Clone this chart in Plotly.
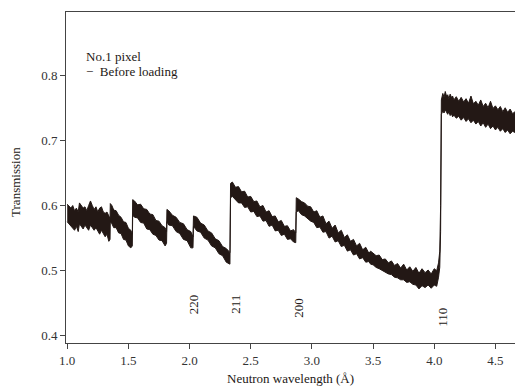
import plotly.graph_objects as go

# Wavelength (Å), lower and upper envelope of the noisy transmission band
wavelength = [
    1.000, 1.015, 1.030, 1.045, 1.060, 1.075, 1.090, 1.100, 1.115, 1.130, 1.145, 1.160, 1.175, 1.190,
    1.205, 1.220, 1.235, 1.250, 1.265, 1.280, 1.295, 1.310, 1.325, 1.340, 1.350,
    1.352, 1.365, 1.380, 1.400, 1.420, 1.440, 1.460, 1.480, 1.500, 1.520, 1.532,
    1.535, 1.550, 1.575, 1.600, 1.625, 1.650, 1.675, 1.700, 1.725, 1.750, 1.775, 1.800, 1.812,
    1.815, 1.830, 1.860, 1.890, 1.920, 1.950, 1.980, 2.010, 2.028,
    2.032, 2.060, 2.090, 2.120, 2.150, 2.180, 2.210, 2.240, 2.270, 2.300, 2.330,
    2.335, 2.350, 2.375, 2.400, 2.425, 2.450, 2.475, 2.500, 2.525, 2.550, 2.575, 2.600, 2.625,
    2.650, 2.675, 2.700, 2.725, 2.750, 2.775, 2.800, 2.825, 2.850, 2.868,
    2.872, 2.890, 2.915, 2.940, 2.965, 2.990, 3.015, 3.040, 3.065, 3.090, 3.115, 3.140, 3.165,
    3.190, 3.215, 3.240, 3.265, 3.290, 3.315, 3.340, 3.365, 3.390, 3.415, 3.440, 3.465, 3.480,
    3.500, 3.525, 3.550, 3.575, 3.600, 3.625, 3.650, 3.675, 3.700, 3.725, 3.750, 3.775, 3.800,
    3.825, 3.850, 3.875, 3.900, 3.925, 3.950, 3.975, 4.000, 4.020, 4.035,
    4.045, 4.052,
    4.058, 4.070, 4.080, 4.090, 4.100, 4.110, 4.120, 4.130, 4.140, 4.150, 4.160, 4.180, 4.200,
    4.220, 4.240, 4.260, 4.280, 4.300, 4.320, 4.340, 4.360, 4.380, 4.400, 4.420, 4.440, 4.460,
    4.480, 4.500, 4.520, 4.540, 4.560, 4.580, 4.600, 4.620, 4.640, 4.660, 4.700,
]
lower = [
    0.575, 0.572, 0.568, 0.565, 0.562, 0.568, 0.560, 0.572, 0.568, 0.564, 0.570, 0.565, 0.562, 0.570,
    0.566, 0.562, 0.566, 0.560, 0.556, 0.562, 0.558, 0.552, 0.556, 0.545, 0.548,
    0.575, 0.572, 0.566, 0.566, 0.558, 0.557, 0.548, 0.547, 0.538, 0.535, 0.538,
    0.585, 0.582, 0.581, 0.574, 0.573, 0.564, 0.563, 0.556, 0.554, 0.547, 0.546, 0.538, 0.542,
    0.575, 0.570, 0.569, 0.560, 0.557, 0.548, 0.546, 0.535, 0.535,
    0.568, 0.561, 0.559, 0.550, 0.547, 0.538, 0.535, 0.526, 0.523, 0.513, 0.510,
    0.612, 0.614, 0.609, 0.604, 0.604, 0.597, 0.598, 0.590, 0.591, 0.583, 0.584, 0.576, 0.577,
    0.568, 0.570, 0.561, 0.562, 0.554, 0.556, 0.548, 0.549, 0.544, 0.543,
    0.590, 0.592, 0.586, 0.584, 0.580, 0.576, 0.574, 0.566, 0.567, 0.559, 0.560, 0.550, 0.553,
    0.544, 0.546, 0.537, 0.539, 0.530, 0.532, 0.524, 0.526, 0.518, 0.520, 0.513, 0.514, 0.510,
    0.509, 0.505, 0.503, 0.500, 0.498, 0.495, 0.494, 0.490, 0.489, 0.486, 0.486, 0.482, 0.483,
    0.479, 0.478, 0.472, 0.477, 0.474, 0.478, 0.473, 0.478, 0.476, 0.490,
    0.505, 0.560,
    0.740, 0.745, 0.742, 0.747, 0.743, 0.740, 0.744, 0.738, 0.741, 0.736, 0.739, 0.734, 0.737,
    0.731, 0.735, 0.729, 0.733, 0.727, 0.731, 0.725, 0.729, 0.722, 0.727, 0.720, 0.725, 0.718,
    0.722, 0.716, 0.720, 0.714, 0.718, 0.712, 0.716, 0.710, 0.714, 0.712, 0.710,
]
upper = [
    0.602, 0.598, 0.596, 0.600, 0.592, 0.596, 0.590, 0.604, 0.600, 0.596, 0.598, 0.592, 0.600, 0.607,
    0.600, 0.594, 0.598, 0.590, 0.596, 0.598, 0.590, 0.588, 0.590, 0.584, 0.580,
    0.603, 0.600, 0.593, 0.592, 0.585, 0.582, 0.575, 0.574, 0.565, 0.562, 0.556,
    0.609, 0.607, 0.601, 0.602, 0.595, 0.594, 0.587, 0.586, 0.577, 0.576, 0.569, 0.566, 0.560,
    0.594, 0.592, 0.585, 0.582, 0.574, 0.572, 0.563, 0.560, 0.552,
    0.584, 0.582, 0.573, 0.570, 0.561, 0.558, 0.549, 0.546, 0.537, 0.534, 0.528,
    0.634, 0.636, 0.628, 0.629, 0.621, 0.622, 0.613, 0.614, 0.606, 0.607, 0.598, 0.600, 0.590,
    0.592, 0.583, 0.584, 0.575, 0.577, 0.568, 0.569, 0.561, 0.563, 0.558,
    0.612, 0.610, 0.606, 0.604, 0.599, 0.598, 0.590, 0.592, 0.582, 0.584, 0.572, 0.576, 0.565,
    0.570, 0.558, 0.562, 0.551, 0.555, 0.545, 0.548, 0.538, 0.542, 0.532, 0.536, 0.527, 0.530,
    0.527, 0.523, 0.524, 0.517, 0.518, 0.512, 0.515, 0.508, 0.511, 0.504, 0.510, 0.501, 0.506,
    0.499, 0.505, 0.496, 0.503, 0.497, 0.501, 0.495, 0.503, 0.500, 0.512,
    0.530, 0.600,
    0.762, 0.772, 0.766, 0.775, 0.768, 0.770, 0.764, 0.771, 0.766, 0.768, 0.762, 0.767, 0.760,
    0.766, 0.759, 0.764, 0.757, 0.768, 0.756, 0.760, 0.754, 0.762, 0.752, 0.757, 0.750, 0.760,
    0.749, 0.753, 0.747, 0.752, 0.744, 0.750, 0.743, 0.748, 0.741, 0.744, 0.742,
]
assert len(wavelength) == len(lower) == len(upper)

peak_labels = ["220", "211", "200", "110"]
peak_x = [2.033, 2.373, 2.895, 4.072]
peak_y = [0.448, 0.448, 0.443, 0.428]

x_ticks = [1.0, 1.5, 2.0, 2.5, 3.0, 3.5, 4.0, 4.5]
y_ticks = [0.4, 0.5, 0.6, 0.7, 0.8]

INK = "#231815"
SERIF = "Liberation Serif"

fig = go.Figure()
fig.add_trace(go.Scatter(x=wavelength, y=lower, mode="lines",
                         line=dict(color=INK, width=1), showlegend=False, hoverinfo="skip"))
fig.add_trace(go.Scatter(x=wavelength, y=upper, mode="lines", fill="tonexty",
                         fillcolor=INK, line=dict(color=INK, width=1), showlegend=False))

for lab, px, py in zip(peak_labels, peak_x, peak_y):
    fig.add_annotation(x=px, y=py, text=lab, showarrow=False, textangle=-90,
                       font=dict(family=SERIF, size=13, color=INK))

fig.add_annotation(x=1.139, y=0.829, text="No.1 pixel", showarrow=False, xanchor="left",
                   font=dict(family=SERIF, size=13, color=INK))
fig.add_annotation(x=1.139, y=0.805, text="−  Before loading", showarrow=False, xanchor="left",
                   font=dict(family=SERIF, size=13, color=INK))

fig.add_annotation(xref="paper", yref="paper", x=0.499, y=-0.108, text="Neutron wavelength (Å)",
                   showarrow=False, yanchor="middle", font=dict(family=SERIF, size=13, color=INK))
fig.add_annotation(xref="paper", yref="paper", x=-0.114, y=0.486, text="Transmission",
                   showarrow=False, textangle=-90, xanchor="center",
                   font=dict(family=SERIF, size=13, color=INK))

fig.update_layout(
    width=515, height=388,
    margin=dict(l=66, r=0, t=12, b=45),
    plot_bgcolor="white", paper_bgcolor="white",
    font=dict(family=SERIF, size=13, color="#333333"),
    xaxis=dict(range=[0.99, 4.66], tickvals=x_ticks, ticktext=[f"{v:.1f}" for v in x_ticks],
               showgrid=False, zeroline=False, showline=True, linecolor="#444444", linewidth=1,
               mirror=True, ticks="outside", ticklen=5, tickcolor="#444444"),
    yaxis=dict(range=[0.389, 0.897], tickvals=y_ticks, ticktext=[f"{v:.1f}" for v in y_ticks],
               showgrid=False, zeroline=False, showline=True, linecolor="#444444", linewidth=1,
               ticks="outside", ticklen=5, tickcolor="#444444"),
)

fig.write_html("out.html")
